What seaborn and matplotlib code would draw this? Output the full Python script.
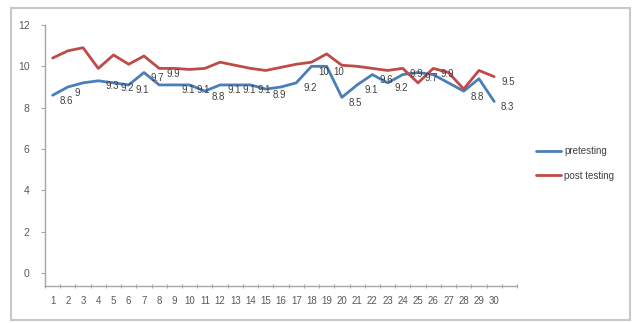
import matplotlib
matplotlib.use("Agg")
import matplotlib.pyplot as plt
import pandas as pd
import seaborn as sns
from matplotlib.patches import Rectangle
from matplotlib.ticker import FixedLocator, NullFormatter

# Session numbers and scores
sessions = list(range(1, 31))
pretesting = [8.6, 9.0, 9.2, 9.3, 9.2, 9.1, 9.7, 9.1, 9.1, 9.1,
              8.8, 9.1, 9.1, 9.1, 8.9, 9.0, 9.2, 10.0, 10.0, 8.5,
              9.1, 9.6, 9.2, 9.6, 9.7, 9.6, 9.2, 8.8, 9.4, 8.3]
post_testing = [10.4, 10.75, 10.9, 9.9, 10.55, 10.1, 10.5, 9.9, 9.9, 9.85,
                9.9, 10.2, 10.05, 9.9, 9.8, 9.95, 10.1, 10.2, 10.6, 10.05,
                10.0, 9.9, 9.8, 9.9, 9.2, 9.9, 9.7, 8.9, 9.8, 9.5]
series_names = ["pretesting", "post testing"]
y_ticks = [0, 2, 4, 6, 8, 10, 12]
x_tick_labels = [str(s) for s in sessions]

# sessions that carry a value label
pre_labelled = [1, 2, 4, 5, 6, 7, 9, 10, 11, 12, 13, 14, 15, 17, 18, 19,
                20, 21, 22, 23, 25, 28, 30]
post_labelled = [8, 24, 26, 30]

colors = {"pretesting": "#4A7EBB", "post testing": "#BE4B48"}

df = pd.DataFrame({
    "session": sessions * 2,
    "score": pretesting + post_testing,
    "series": [series_names[0]] * len(sessions) + [series_names[1]] * len(sessions),
})

sns.set_style("white")
plt.rcParams["font.family"] = ["Liberation Sans", "DejaVu Sans"]

fig = plt.figure(figsize=(6.36, 3.23), dpi=100)
ax = fig.add_axes([45 / 636, 1 - 286 / 323, (517 - 45) / 636, (286 - 25) / 323])

sns.lineplot(data=df, x="session", y="score", hue="series", palette=colors,
             hue_order=series_names, linewidth=2.0, ax=ax, legend=False)

ax.set_xlim(0.5, 31.5)
ax.set_ylim(-0.63, 12)
ax.set_xlabel("")
ax.set_ylabel("")

# category labels at centres, tick marks at category boundaries
ax.set_xticks(sessions)
ax.set_xticklabels(x_tick_labels, fontsize=7, color="#595959")
ax.xaxis.set_minor_locator(FixedLocator([s - 0.5 for s in range(1, 33)]))
ax.xaxis.set_minor_formatter(NullFormatter())
ax.tick_params(axis="x", which="major", length=0, pad=7)
ax.tick_params(axis="x", which="minor", length=3, width=0.8, color="#A6A6A6",
               direction="inout", bottom=True)

ax.set_yticks(y_ticks)
ax.set_yticklabels([str(t) for t in y_ticks], fontsize=7.5, color="#595959")
ax.tick_params(axis="y", length=3, width=0.8, color="#A6A6A6",
               direction="out", left=True, pad=8)

for side in ["top", "right"]:
    ax.spines[side].set_visible(False)
for side in ["left", "bottom"]:
    ax.spines[side].set_color("#A6A6A6")
    ax.spines[side].set_linewidth(1.0)

# value labels to the right of points
def label_points(values, labelled):
    for s in labelled:
        v = values[s - 1]
        ax.annotate(f"{v:g}", xy=(s, v), xytext=(5, -4), textcoords="offset points",
                    ha="left", va="center", fontsize=7, color="#404040")

label_points(pretesting, pre_labelled)
label_points(post_testing, post_labelled)

# legend
handles = [plt.Line2D([], [], color=colors[n], linewidth=2.0) for n in series_names]
fig.legend(handles, series_names, loc="upper left",
           bbox_to_anchor=(536 / 636, 1 - 146 / 323), frameon=False,
           fontsize=7, handlelength=2.6, handletextpad=0.3, labelspacing=1.5,
           borderpad=0, borderaxespad=0, labelcolor="#404040")

# chart border
fig.patches.append(Rectangle((11 / 636, 1 - 320 / 323), (630 - 11) / 636,
                             (320 - 8) / 323, transform=fig.transFigure,
                             fill=False, edgecolor="#C8C8C8", linewidth=1.5))

fig.savefig("out.png", dpi=100)
